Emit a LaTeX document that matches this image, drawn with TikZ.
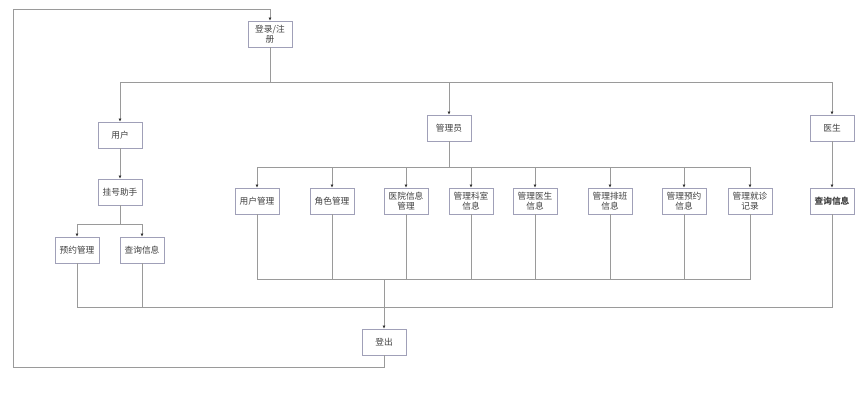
\documentclass[tikz,border=0pt]{standalone}
\usepackage{fontspec}
\newfontfamily\cjk{Noto Sans CJK SC}
\usetikzlibrary{arrows.meta}
\definecolor{boxline}{HTML}{A0A0B8}
\definecolor{wire}{HTML}{9A9A9A}
\definecolor{txt}{HTML}{404040}
\begin{document}
\begin{tikzpicture}[x=1pt,y=-1pt,
  box/.style={draw=boxline,line width=0.9pt,fill=white,minimum width=44pt,minimum height=26pt,inner sep=1pt,align=center,font=\cjk\fontsize{8.7}{10.3}\selectfont,text=txt},
  wire/.style={draw=wire,line width=0.8pt},
  arr/.style={wire,-{Latex[length=3pt,width=3pt,color=black!80]}}]
\useasboundingbox (0,0) rectangle (865,416);
\node[box] (login) at (270,34) {登录/注\\册};
\node[box] (user) at (120,135) {用户};
\node[box] (admin) at (449,128) {管理员};
\node[box] (doc) at (832,128) {医生};
\node[box] (guahao) at (120,192) {挂号助手};
\node[box] (yuyue) at (77,250) {预约管理};
\node[box] (chaxun) at (142,250) {查询信息};
\node[box] (a1) at (257,201) {用户管理};
\node[box] (a2) at (332,201) {角色管理};
\node[box] (a3) at (406,201) {医院信息\\管理};
\node[box] (a4) at (471,201) {管理科室\\信息};
\node[box] (a5) at (535,201) {管理医生\\信息};
\node[box] (a6) at (610,201) {管理排班\\信息};
\node[box] (a7) at (684,201) {管理预约\\信息};
\node[box] (a8) at (750,201) {管理就诊\\记录};
\node[box,font=\cjk\bfseries\fontsize{8.7}{10.3}\selectfont] (dq) at (832,201) {查询信息};
\node[box] (logout) at (384,342) {登出};
% coordinates
\coordinate (bus1) at (270,82);
\coordinate (abus) at (449,167);
\coordinate (ubus) at (120,224);
\coordinate (lbus) at (384,279);
\coordinate (mbus) at (384,307);
\coordinate (loopA) at (384,367);
\coordinate (loopB) at (13,367);
\coordinate (loopC) at (13,9);
\coordinate (loopD) at (270,9);
% top tree
\draw[wire] (login.south) -- (bus1);
\draw[arr] (bus1) -| (user.north);
\draw[arr] (bus1) -| (admin.north);
\draw[arr] (bus1) -| (doc.north);
\draw[arr] (user) -- (guahao);
\draw[wire] (guahao.south) -- (ubus);
\draw[arr] (ubus) -| (yuyue.north);
\draw[arr] (ubus) -| (chaxun.north);
\draw[arr] (doc) -- (dq);
\draw[wire] (admin.south) -- (abus);
\foreach \n in {a1,a2,a3,a4,a5,a6,a7,a8}{
  \draw[arr] (abus) -| (\n.north);
  \draw[wire] (\n.south) |- (lbus);
}
\foreach \n in {yuyue,chaxun,dq}{
  \draw[wire] (\n.south) |- (mbus);
}
\draw[arr] (lbus) -- (logout.north);
\draw[arr] (logout.south) -- (loopA) -- (loopB) -- (loopC) -- (loopD) -- (login.north);
\end{tikzpicture}
\end{document}
